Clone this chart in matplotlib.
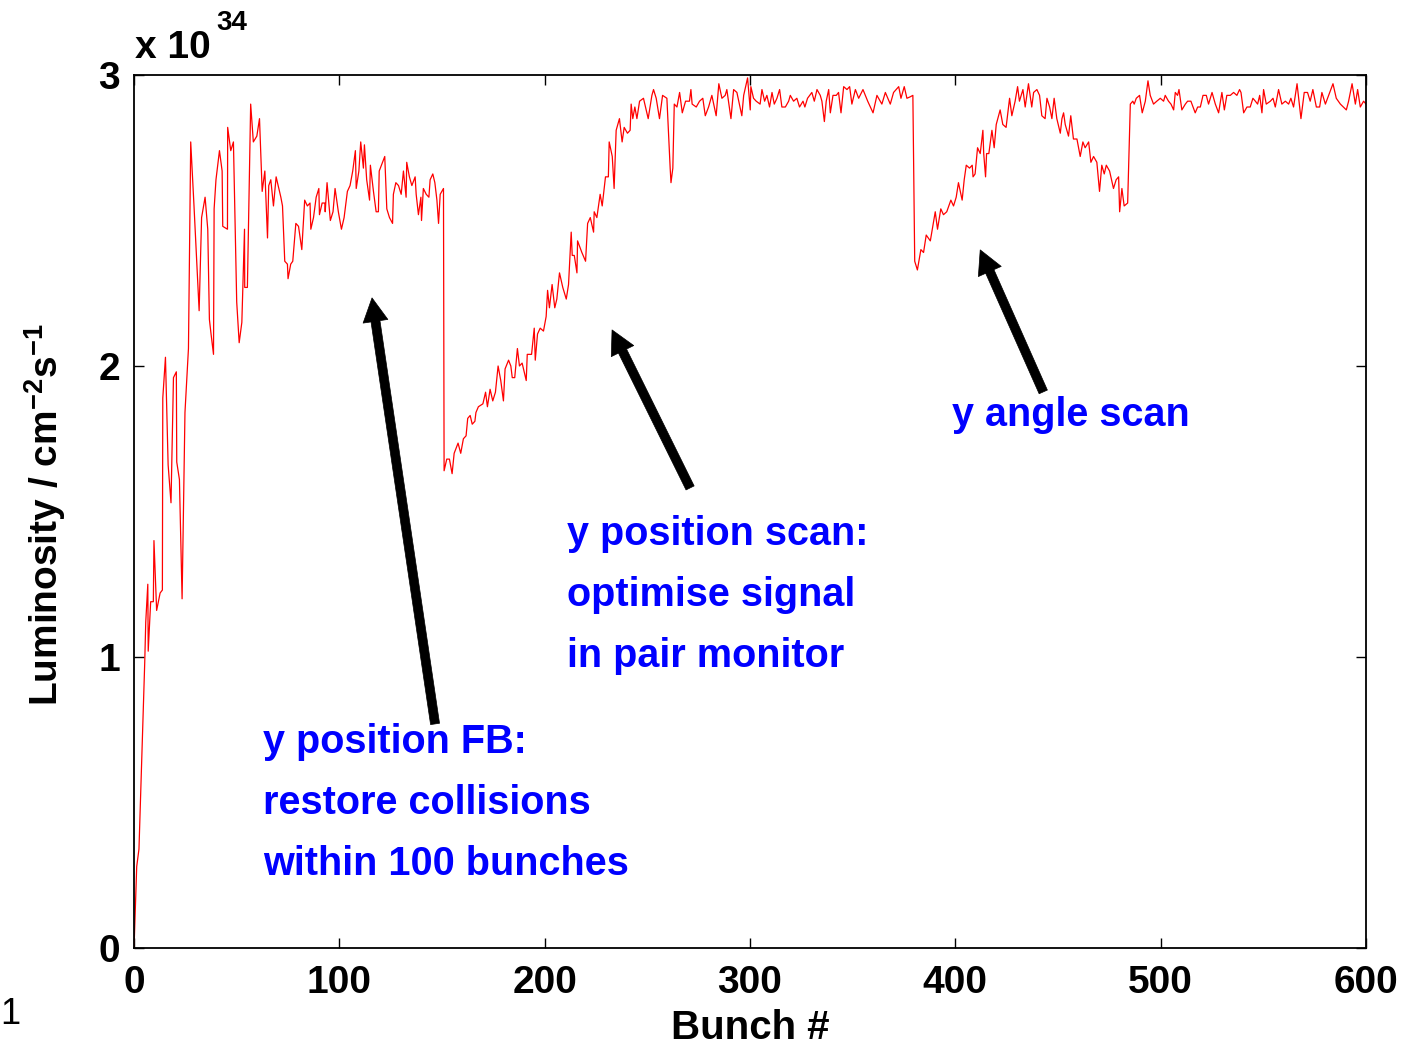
import numpy as np
import matplotlib.pyplot as plt

plt.rcParams['font.family'] = ['Liberation Sans', 'DejaVu Sans']
plt.rcParams['font.weight'] = 'bold'
plt.rcParams['mathtext.fontset'] = 'custom'
plt.rcParams['mathtext.rm'] = 'Liberation Sans:bold'
plt.rcParams['mathtext.bf'] = 'Liberation Sans:bold'
plt.rcParams['mathtext.default'] = 'bf'

# luminosity readings (bunch #, L / 1e34 cm^-2 s^-1), one list per phase
startup = [
    (0, 0.0), (1.3, 0.28), (2.4, 0.34), (5.2, 0.98), (5.7, 1.12), (6.7, 1.25), (6.9, 1.02),
    (8.1, 1.19), (9.4, 1.19), (9.7, 1.40), (11.0, 1.16), (12.7, 1.22), (13.8, 1.23), (14.0, 1.89),
    (15.3, 2.03), (16.6, 1.66), (18.0, 1.53), (19.2, 1.96), (20.6, 1.98), (20.8, 1.67), (22.1, 1.61),
    (23.4, 1.20), (24.8, 1.84), (26.5, 2.06), (27.6, 2.77), (29.2, 2.55), (31.7, 2.19), (32.9, 2.51),
    (34.6, 2.58), (35.9, 2.47), (36.7, 2.16), (37.5, 2.11), (38.7, 2.04), (39.0, 2.54), (39.9, 2.64),
    (41.6, 2.74), (42.9, 2.67), (43.2, 2.48), (45.5, 2.47), (45.6, 2.82), (47.1, 2.74), (48.4, 2.77),
    (50.0, 2.22), (51.2, 2.08), (52.5, 2.15), (53.8, 2.47), (53.9, 2.27), (55.2, 2.27), (56.8, 2.90),
    (58.1, 2.77), (59.8, 2.79), (61.1, 2.85), (62.4, 2.60), (63.7, 2.67), (65.0, 2.44), (65.6, 2.62),
    (66.6, 2.64), (67.9, 2.55), (69.2, 2.65), (70.5, 2.61), (71.5, 2.58), (72.3, 2.55), (73.4, 2.36),
    (74.7, 2.35), (75.0, 2.30), (76.3, 2.35), (77.3, 2.36), (78.8, 2.49), (80.1, 2.48), (81.7, 2.40),
    (83.1, 2.57), (84.4, 2.55), (85.7, 2.56), (86.1, 2.47), (87.4, 2.51), (88.7, 2.58), (90.0, 2.61),
    (90.3, 2.52), (91.6, 2.56), (92.9, 2.56), (93.1, 2.53), (94.0, 2.63), (95.6, 2.50), (96.9, 2.53),
    (97.9, 2.61), (99.5, 2.53), (101.0, 2.47), (102.3, 2.51), (103.9, 2.60), (105.2, 2.62), (106.5, 2.67),
    (107.8, 2.74), (108.2, 2.61), (109.5, 2.67), (110.4, 2.77), (111.7, 2.68), (112.2, 2.76), (113.3, 2.64),
    (114.7, 2.57), (115.1, 2.69), (116.6, 2.60), (117.9, 2.53), (119.0, 2.53), (119.4, 2.67), (121.0, 2.70),
    (122.1, 2.72), (123.1, 2.54), (124.4, 2.51), (125.9, 2.49), (126.3, 2.59), (127.5, 2.63), (128.8, 2.62),
    (130.1, 2.59), (131.2, 2.67), (132.5, 2.58), (132.8, 2.70), (134.1, 2.65), (135.3, 2.62), (136.9, 2.65),
    (137.4, 2.59), (138.5, 2.52), (139.7, 2.58), (140.0, 2.50), (140.9, 2.61), (142.3, 2.59), (143.6, 2.58),
    (144.2, 2.64), (145.5, 2.66), (146.5, 2.63), (147.5, 2.57), (148.3, 2.49), (149.1, 2.59), (150.7, 2.61),
]
pos_scan = [
    (151.0, 1.64), (152.3, 1.68), (153.6, 1.68), (154.9, 1.63), (155.9, 1.70), (157.8, 1.735), (159.1, 1.70),
    (160.4, 1.75), (161.7, 1.76), (162.5, 1.82), (163.7, 1.83), (164.7, 1.80), (166.0, 1.81), (166.5, 1.84),
    (167.7, 1.86), (169.9, 1.87), (171.2, 1.91), (172.1, 1.86), (173.4, 1.92), (174.7, 1.88), (176.0, 1.91),
    (177.3, 2.00), (178.6, 1.95), (179.9, 1.88), (180.7, 1.99), (182.4, 2.02), (183.5, 2.00), (184.2, 1.96),
    (185.4, 1.96), (186.7, 2.06), (187.7, 2.00), (189.0, 2.01), (191.0, 1.95), (191.5, 2.04), (193.6, 2.04),
    (194.9, 2.13), (195.4, 2.02), (196.5, 2.11), (197.8, 2.13), (199.4, 2.12), (200.7, 2.17), (201.4, 2.26),
    (202.3, 2.20), (203.6, 2.28), (204.9, 2.20), (205.9, 2.23), (207.2, 2.32), (208.8, 2.27), (210.5, 2.23),
    (211.6, 2.28), (212.9, 2.46), (213.4, 2.38), (214.4, 2.38), (215.7, 2.32), (216.0, 2.43), (218.1, 2.39),
    (219.9, 2.36), (220.9, 2.49), (222.2, 2.51), (223.8, 2.46), (224.1, 2.53), (225.4, 2.51), (227.0, 2.59),
    (228.0, 2.55), (229.6, 2.65), (231.0, 2.65), (231.4, 2.77), (232.9, 2.72), (233.8, 2.61), (234.8, 2.81),
    (236.4, 2.85), (237.7, 2.77), (238.7, 2.82), (240.3, 2.80), (241.6, 2.81), (242.1, 2.90), (242.9, 2.85),
    (243.9, 2.89), (244.9, 2.85), (246.2, 2.91), (248.1, 2.92), (250.4, 2.85), (252.2, 2.93), (253.0, 2.95),
    (254.3, 2.92), (255.9, 2.85), (257.4, 2.93), (259.5, 2.92), (261.1, 2.68), (261.5, 2.63), (262.4, 2.68),
    (263.1, 2.90), (264.4, 2.89), (265.7, 2.94), (267.0, 2.87), (268.6, 2.91), (270.5, 2.91), (271.2, 2.95),
    (271.8, 2.90), (273.8, 2.89), (275.4, 2.91), (277.0, 2.92), (278.2, 2.86), (279.8, 2.89), (281.4, 2.93),
    (283.5, 2.86), (284.8, 2.97), (286.3, 2.92), (287.9, 2.93), (288.7, 2.95), (290.7, 2.85), (292.0, 2.95),
    (293.6, 2.94), (296.0, 2.86), (296.9, 2.93), (298.8, 2.99), (300.1, 2.88), (300.4, 2.96), (301.7, 2.92),
    (303.0, 2.91), (304.9, 2.90), (305.8, 2.95), (307.1, 2.91), (308.2, 2.93), (309.5, 2.89), (310.7, 2.94),
    (311.8, 2.90), (313.1, 2.92), (314.4, 2.95), (315.5, 2.89), (317.2, 2.89), (318.8, 2.91), (319.6, 2.93),
    (321.2, 2.91), (322.8, 2.92), (324.1, 2.89), (325.8, 2.91), (326.7, 2.89), (328.0, 2.92), (330.1, 2.94),
    (331.3, 2.91), (332.6, 2.95), (334.2, 2.93), (335.0, 2.91), (336.2, 2.84), (337.1, 2.91), (338.3, 2.95),
    (339.1, 2.87), (340.4, 2.93), (342.0, 2.93), (343.1, 2.94), (344.3, 2.87), (345.6, 2.96), (347.2, 2.95),
    (348.5, 2.96), (349.6, 2.90), (351.3, 2.95), (352.9, 2.92), (355.0, 2.95), (357.3, 2.91), (359.9, 2.87),
    (361.8, 2.93), (364.2, 2.90), (365.9, 2.94), (368.3, 2.90), (369.9, 2.94), (372.4, 2.96), (373.5, 2.92),
    (375.1, 2.96), (376.4, 2.92), (378.0, 2.925), (379.3, 2.93),
]
angle_scan = [
    (380.2, 2.36), (381.5, 2.33), (383.2, 2.40), (384.5, 2.39), (385.8, 2.45), (387.8, 2.43), (390.2, 2.53),
    (391.3, 2.47), (392.9, 2.54), (394.2, 2.52), (395.8, 2.53), (397.8, 2.57), (399.1, 2.55), (400.4, 2.58),
    (401.5, 2.63), (403.3, 2.57), (404.3, 2.64), (405.3, 2.69), (406.9, 2.68), (408.2, 2.69), (408.6, 2.65),
    (409.6, 2.66), (410.8, 2.75), (412.1, 2.73), (413.4, 2.81), (413.8, 2.73), (414.7, 2.65), (415.2, 2.73),
    (416.3, 2.73), (417.8, 2.81), (418.9, 2.75), (419.9, 2.83), (421.8, 2.88), (423.1, 2.83), (424.7, 2.82),
    (426.4, 2.92), (427.5, 2.86), (429.1, 2.91), (430.3, 2.96), (431.2, 2.91), (432.9, 2.95), (434.0, 2.89),
    (435.6, 2.97), (436.4, 2.93), (437.2, 2.89), (438.1, 2.94), (439.7, 2.95), (441.0, 2.93), (442.1, 2.86),
    (443.7, 2.85), (444.6, 2.92), (445.9, 2.89), (447.0, 2.85), (448.1, 2.92), (449.4, 2.85), (451.1, 2.80),
    (451.9, 2.85), (452.7, 2.87), (453.5, 2.83), (455.1, 2.79), (456.2, 2.86), (457.5, 2.78), (459.2, 2.78),
    (460.8, 2.72), (462.1, 2.77), (463.2, 2.75), (464.9, 2.77), (466.0, 2.70), (467.3, 2.72), (468.9, 2.70),
    (470.2, 2.60), (471.3, 2.69), (472.5, 2.66), (473.5, 2.69), (475.1, 2.67), (477.0, 2.61), (478.3, 2.64),
    (479.5, 2.65), (480.0, 2.53), (481.1, 2.61), (482.2, 2.55), (483.9, 2.56),
]
final = [
    (485.2, 2.90), (486.4, 2.91), (487.1, 2.90), (488.1, 2.92), (489.7, 2.93), (491.0, 2.87), (492.5, 2.91),
    (493.8, 2.98), (494.9, 2.93), (496.5, 2.90), (498.1, 2.91), (499.8, 2.92), (501.4, 2.91), (502.2, 2.93),
    (503.8, 2.91), (505.0, 2.90), (506.3, 2.88), (507.1, 2.94), (508.2, 2.93), (508.9, 2.95), (510.3, 2.88),
    (512.0, 2.90), (513.1, 2.91), (514.7, 2.91), (516.8, 2.87), (518.0, 2.89), (519.3, 2.89), (520.6, 2.93),
    (522.2, 2.93), (523.3, 2.90), (525.0, 2.94), (526.6, 2.90), (528.2, 2.87), (529.8, 2.94), (531.0, 2.88),
    (532.2, 2.93), (533.9, 2.93), (535.5, 2.94), (537.1, 2.93), (538.4, 2.95), (539.1, 2.94), (540.4, 2.87),
    (542.0, 2.89), (543.6, 2.89), (544.9, 2.92), (546.1, 2.91), (547.2, 2.90), (548.2, 2.93), (549.3, 2.87),
    (550.1, 2.95), (551.4, 2.90), (553.4, 2.91), (554.7, 2.92), (555.8, 2.89), (557.4, 2.95), (559.0, 2.90),
    (560.7, 2.91), (562.3, 2.90), (563.4, 2.92), (564.7, 2.89), (566.4, 2.97), (568.3, 2.85), (569.9, 2.94),
    (571.5, 2.94), (572.8, 2.91), (574.1, 2.95), (575.8, 2.89), (577.4, 2.89), (578.5, 2.94), (580.2, 2.90),
    (581.8, 2.93), (583.9, 2.97), (585.5, 2.92), (587.5, 2.90), (590.4, 2.88), (591.5, 2.91), (593.2, 2.97),
    (594.8, 2.90), (595.9, 2.95), (597.2, 2.89), (598.8, 2.91), (600.0, 2.90),
]

# annotations: text lines, left x, first baseline y, arrow tail -> head
fb_lines = ['y position FB:', 'restore collisions', 'within 100 bunches']
scan_lines = ['y position scan:', 'optimise signal', 'in pair monitor']
angle_lines = ['y angle scan']
notes = [
    (fb_lines, 62.8, 0.67, (146.6, 0.77), (115.9, 2.234)),
    (scan_lines, 210.9, 1.385, (270.8, 1.581), (232.8, 2.124)),
    (angle_lines, 398.3, 1.795, (442.8, 1.911), (412.1, 2.399)),
]

data = np.array(startup + pos_scan + angle_scan + final)
bunch, lumi = data[:, 0], data[:, 1]

fig = plt.figure(figsize=(14.08, 10.46), dpi=100)
ax = fig.add_axes([0.0952, 0.0937, 0.875, 0.8346])

ax.plot(bunch, lumi, color='red', lw=0.9)

for lines, x0, y0, tail, head in notes:
    for i, line in enumerate(lines):
        ax.text(x0, y0 - i * 0.21, line, color='blue', fontsize=28.5, fontweight='bold', va='baseline', ha='left')
    ax.annotate('', xy=head, xytext=tail,
                arrowprops=dict(facecolor='black', edgecolor='black', lw=0.5,
                                width=6.5, headwidth=18, headlength=17, shrink=0))

ax.set_xlim(0, 600)
ax.set_ylim(0, 3)
ax.set_xticks([0, 100, 200, 300, 400, 500, 600])
ax.set_yticks([0, 1, 2, 3])
ax.tick_params(direction='in', length=7, width=1, top=True, right=True, labelsize=28, pad=10)
ax.tick_params(axis='x', pad=12)
for lbl in ax.get_xticklabels() + ax.get_yticklabels():
    lbl.set_fontweight('bold')
for sp in ax.spines.values():
    sp.set_linewidth(1.3)

ax.set_xlabel('Bunch #', fontsize=29, fontweight='bold', labelpad=6)
fig.text(45 / 1408, 1 - 515 / 1046, r'Luminosity / cm$^{-2}$s$^{-1}$', rotation=90,
         fontsize=28, fontweight='bold', ha='center', va='center')
fig.text(135 / 1408, 1 - 58 / 1046, 'x 10', fontsize=28, fontweight='bold', va='baseline', ha='left')
fig.text(216 / 1408, 1 - 30 / 1046, '34', fontsize=20, fontweight='bold', va='baseline', ha='left')
fig.text(0.0, 1 - 1024 / 1046, '1', fontsize=26, fontweight='normal', va='baseline', ha='left')

fig.savefig('out.png', dpi=100)
